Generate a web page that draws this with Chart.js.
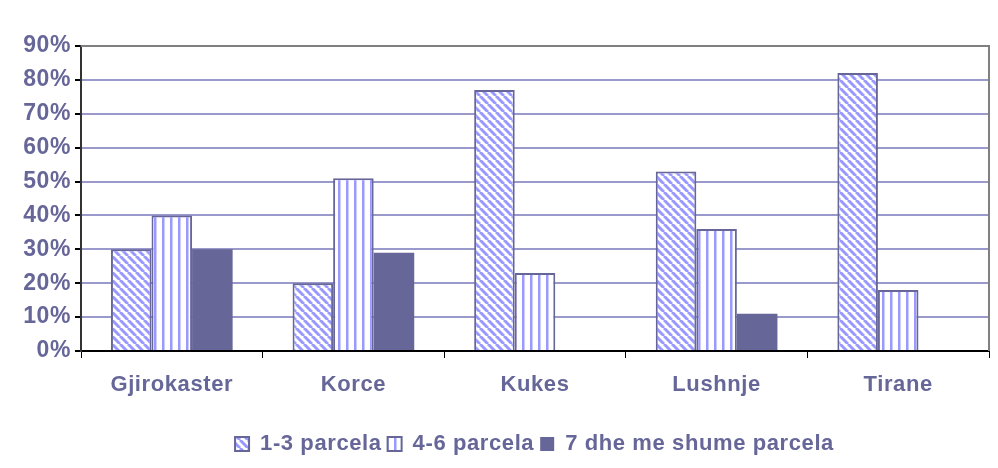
<!DOCTYPE html>
<html>
<head>
<meta charset="utf-8">
<script src="https://cdn.jsdelivr.net/npm/chart.js@4.4.0/dist/chart.umd.min.js"></script>
<style>
html,body{margin:0;padding:0;background:#fff;}
#wrap{width:998px;height:468px;}
</style>
</head>
<body>
<div id="wrap"><canvas id="c" width="998" height="468"></canvas></div>
<script>
const categories = ["Gjirokaster", "Korce", "Kukes", "Lushnje", "Tirane"];
const seriesNames = ["1-3 parcela", "4-6 parcela", "7 dhe me shume parcela"];
const s1 = [30, 20, 77, 53, 82];
const s2 = [40, 51, 23, 36, 18];
const s3 = [30, 29, 0, 11, 0];
const yTicks = [0, 10, 20, 30, 40, 50, 60, 70, 80, 90];

const TEXT = '#666699';
const FONT = 'Liberation Sans, Arial, sans-serif';

function diagPattern(ctx) {
  const c = document.createElement('canvas');
  c.width = 8; c.height = 8;
  const g = c.getContext('2d');
  g.fillStyle = '#ffffff'; g.fillRect(0, 0, 8, 8);
  g.strokeStyle = '#9999ff'; g.lineWidth = 3;
  for (let k = -16; k <= 16; k += 8) {
    g.beginPath(); g.moveTo(k, 0); g.lineTo(k + 8, 8); g.stroke();
  }
  return ctx.createPattern(c, 'repeat');
}
function vertPattern(ctx) {
  const c = document.createElement('canvas');
  c.width = 8; c.height = 8;
  const g = c.getContext('2d');
  g.fillStyle = '#ffffff'; g.fillRect(0, 0, 8, 8);
  g.fillStyle = '#9999ff'; g.fillRect(2, 0, 2, 8);
  g.fillStyle = '#ccccff'; g.fillRect(4, 0, 1, 8);
  return ctx.createPattern(c, 'repeat');
}

const ctx = document.getElementById('c').getContext('2d');
const p1 = diagPattern(ctx);
const p2 = vertPattern(ctx);

const spacing = {
  id: 'spacing',
  beforeUpdate(chart) { chart.ctx.letterSpacing = '0.6px'; },
  beforeDraw(chart) { chart.ctx.letterSpacing = '0.6px'; }
};

const legendShift = {
  id: 'legendShift',
  afterLayout(chart) {
    if (chart.legend) { chart.legend.left += 38; chart.legend.right += 38; }
  }
};

const frame = {
  id: 'frame',
  afterDraw(chart) {
    const a = chart.chartArea, g = chart.ctx;
    g.save();
    g.strokeStyle = '#808080'; g.lineWidth = 2;
    g.beginPath();
    g.moveTo(a.left, a.top); g.lineTo(a.right, a.top); g.lineTo(a.right, a.bottom);
    g.stroke();
    g.restore();
  }
};

new Chart(ctx, {
  type: 'bar',
  data: {
    labels: categories,
    datasets: [
      { label: seriesNames[0], data: s1, backgroundColor: p1, borderColor: '#666699', borderWidth: 2 },
      { label: seriesNames[1], data: s2, backgroundColor: p2, borderColor: '#666699', borderWidth: 2 },
      { label: seriesNames[2], data: s3, backgroundColor: '#666699', borderColor: '#666699', borderWidth: 0 }
    ]
  },
  options: {
    responsive: false,
    animation: false,
    devicePixelRatio: 1,
    layout: { padding: { top: 46, right: 9, left: 4, bottom: 3 } },
    datasets: { bar: { categoryPercentage: 0.67, barPercentage: 1.0 } },
    plugins: {
      tooltip: { enabled: false },
      legend: {
        position: 'bottom',
        labels: {
          color: TEXT,
          font: { family: FONT, size: 22, weight: 'bold' },
          boxWidth: 14, boxHeight: 14, padding: 6
        }
      }
    },
    scales: {
      x: {
        afterFit(axis) { axis.height = 76; },
        grid: { offset: true, drawOnChartArea: false, drawTicks: true, tickLength: 7, color: '#000', tickColor: '#000' },
        border: { color: '#000', width: 2 },
        ticks: { color: TEXT, font: { family: FONT, size: 22, weight: 'bold' }, padding: 14 }
      },
      y: {
        min: 0, max: 90,
        afterBuildTicks(axis) { axis.ticks = yTicks.map(v => ({ value: v })); },
        afterFit(axis) { axis.width = 77; },
        grid: { color: '#9999cc', lineWidth: 2, tickLength: 6, tickColor: '#000' },
        border: { color: '#333', width: 2 },
        ticks: {
          color: TEXT, font: { family: FONT, size: 23, weight: 'bold' }, padding: 4,
          callback: v => v + '%'
        }
      }
    }
  },
  plugins: [spacing, legendShift, frame]
});
</script>
</body>
</html>
